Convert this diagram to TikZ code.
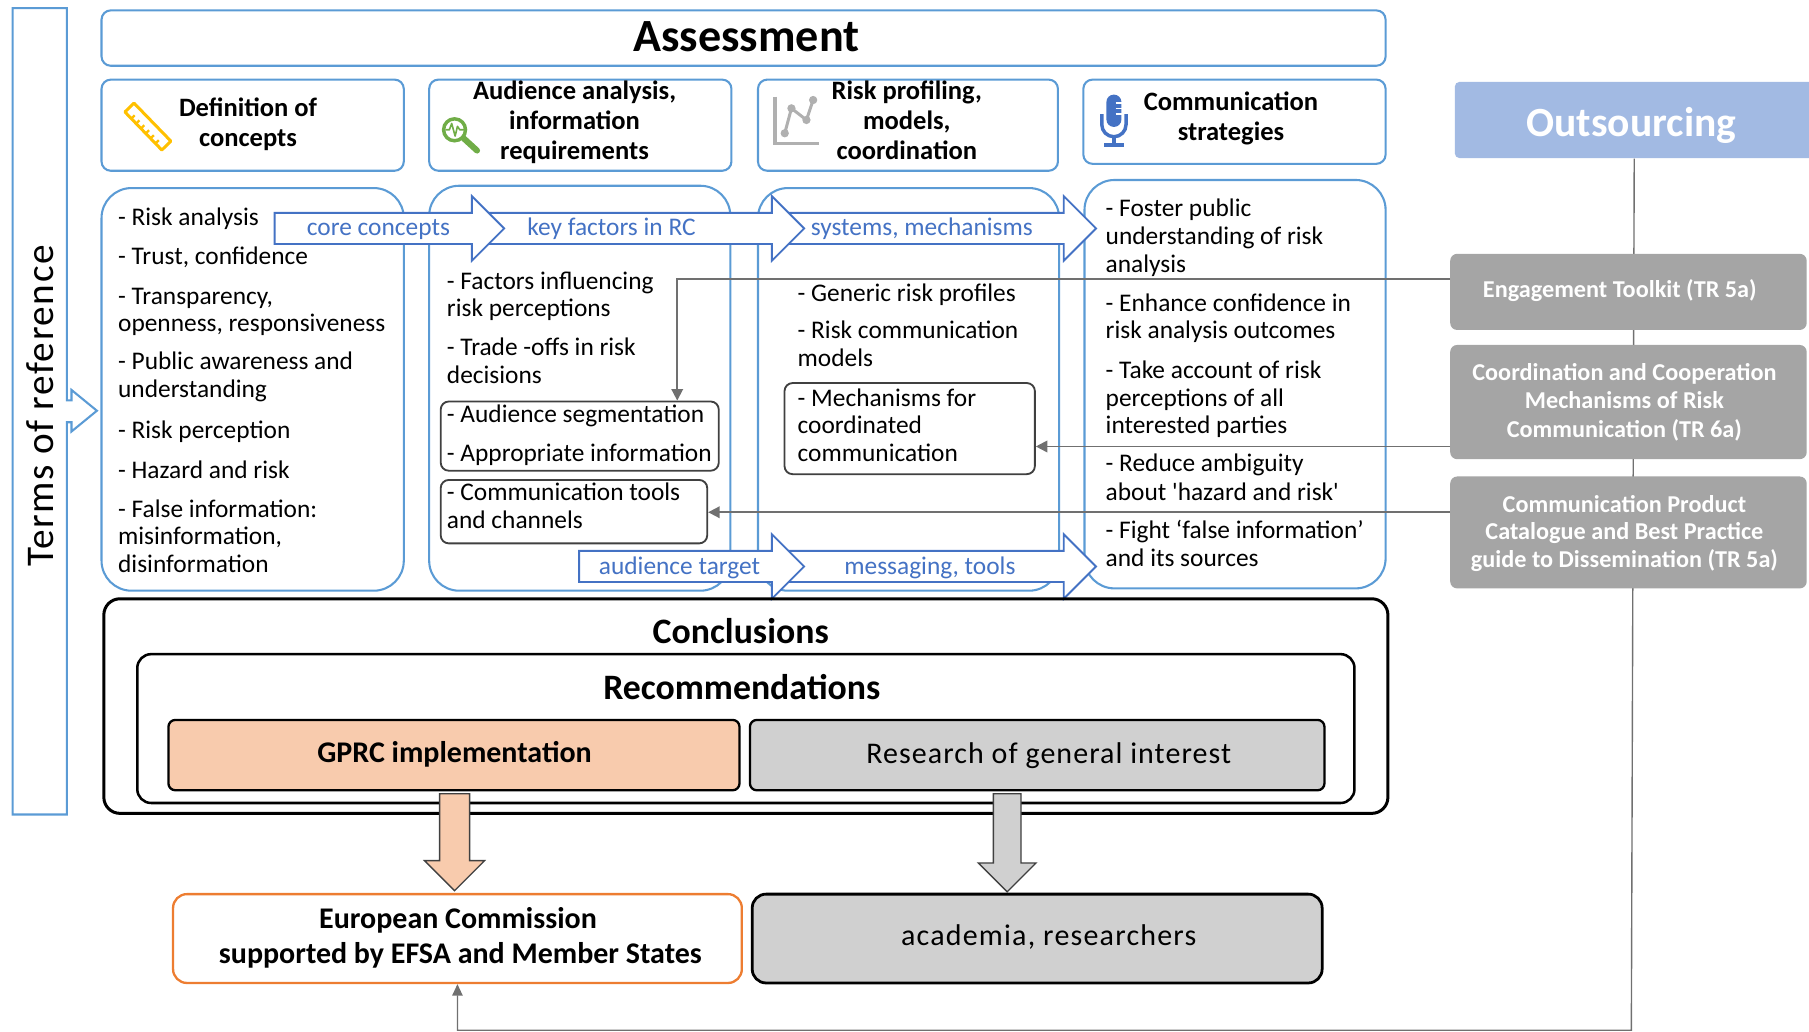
\documentclass[tikz,border=0pt]{standalone}
\usepackage{fontspec}
\setmainfont{Carlito}[Ligatures=TeXOff]
\usetikzlibrary{fit,arrows.meta}
\definecolor{bl}{HTML}{5B9BD5}
\definecolor{bt}{HTML}{4472C4}
\definecolor{gbx}{HTML}{A5A5A5}
\definecolor{outsc}{HTML}{A2BAE3}
\definecolor{peach}{HTML}{F8CBAD}
\definecolor{lgr}{HTML}{D0D0D0}
\definecolor{orng}{HTML}{ED7D31}
\definecolor{dk}{HTML}{404040}
\definecolor{cline}{HTML}{707070}
\definecolor{rulerc}{HTML}{FFC000}
\definecolor{magc}{HTML}{70AD47}
\definecolor{chartc}{HTML}{B0B0B0}
\definecolor{micc}{HTML}{4472C4}
\tikzset{
 hbox/.style={draw=bl, line width=0.9pt, rounded corners=4pt, inner sep=0pt},
 colbox/.style={draw=bl, line width=0.9pt, rounded corners=13pt, inner sep=0pt},
 inbox/.style={draw=dk, line width=0.8pt, rounded corners=3.5pt, fill=white, inner sep=0pt},
 gbox/.style={fill=gbx, rounded corners=3pt, inner sep=0pt},
 blk/.style={draw=black, line width=1.2pt, rounded corners=7pt, inner sep=0pt},
 txt/.style={anchor=base west, inner sep=0pt, font=\fontsize{11}{12}\selectfont},
 hd/.style={anchor=base, inner sep=0pt, font=\bfseries\fontsize{11.5}{13}\selectfont},
 gtxt/.style={anchor=base, inner sep=0pt, text=white, font=\bfseries\fontsize{10.5}{12}\selectfont},
 atxt/.style={anchor=base, inner sep=0pt, text=bt, font=\fontsize{11}{12}\selectfont},
 barrow/.style={draw=bt, line width=0.8pt, fill=white, line join=miter},
 conn/.style={draw=cline, line width=0.8pt, -{Triangle[length=5pt,width=5pt]}},
 thinconn/.style={draw=cline, line width=0.6pt, -{Triangle[length=5pt,width=4.5pt]}},
}
\newcommand\myblockarrow[4]{%
 \draw[barrow] (#1,#4-13.5) -- (#2,#4-13.5) -- (#2,#4-28) -- (#3,#4) -- (#2,#4+28) -- (#2,#4+13.5) -- (#1,#4+13.5) -- cycle;}
\begin{document}
\begin{tikzpicture}[x=0.5pt,y=-0.5pt]
\useasboundingbox (0,0) rectangle (1568,894.5);
\coordinate (botR) at (1414,893);
% Terms of reference
\draw[draw=bl, line width=0.9pt] (11,7) -- (58,7) -- (58,347) -- (62,347) -- (62,338) -- (84,356) -- (62,374) -- (62,366) -- (58,366) -- (58,706) -- (11,706) -- cycle;
\node[rotate=90, inner sep=0pt, font=\fontsize{17}{20}\selectfont\addfontfeature{LetterSpace=4}] (tor) at (35,352) {Terms of reference};
% Assessment
\node[hbox, fit={(88,9) (1201,57)}] (assess) {};
\node[anchor=base, inner sep=0pt, font=\bfseries\fontsize{20}{24}\selectfont] (assessT) at (647,45) {Assessment};
% header boxes
\node[hbox, fit={(88,69) (350,148)}] (h1) {};
\node[hbox, fit={(372,69) (634,148)}] (h2) {};
\node[hbox, fit={(657,69) (917,148)}] (h3) {};
\node[hbox, fit={(939,69) (1201,142)}] (h4) {};
\node[hd] (h1a) at (215,101) {Definition of};
\node[hd] (h1b) at (215,127) {concepts};
\node[hd] (h2a) at (498,86.5) {Audience analysis,};
\node[hd] (h2b) at (498,112.5) {information};
\node[hd] (h2c) at (498,138.5) {requirements};
\node[hd] (h3a) at (786,86.5) {Risk profiling,};
\node[hd] (h3b) at (786,112.5) {models,};
\node[hd] (h3c) at (786,138.5) {coordination};
\node[hd] (h4a) at (1067,95.5) {Communication};
\node[hd] (h4b) at (1067,122) {strategies};
% icons
\draw[rulerc, line width=1.3pt, line join=round] (116.15,89.37) -- (108.25,97.03) -- (140.25,130.03) -- (148.15,122.37) -- cycle;
\foreach \t in {-15,-9,-3,3,9,15} \draw[rulerc, line width=1pt] (124.25+0.697*\t,113.53+0.718*\t) -- ++(2.9,-2.8);
\draw[magc, line width=1.5pt] (394,112.5) circle (9.5);
\draw[magc, line width=2.6pt, line cap=round] (402,120) -- (413.5,130.5);
\draw[magc, line width=0.7pt, line join=round] (386,112.5) -- (389.5,112.5) -- (391.5,107) -- (394.5,118) -- (396.5,109.5) -- (398.5,112.5) -- (402,112.5);
\draw[chartc, line width=1.5pt] (671.6,83.8) -- (671.6,124.2) -- (710,124.2);
\draw[chartc, line width=1.3pt] (680.2,115.5) -- (686,93.9) -- (699,104) -- (704.8,86.7);
\foreach \p in {(680.2,115.5),(686,93.9),(699,104),(704.8,86.7)} \fill[chartc] \p circle (3.6);
\fill[micc, rounded corners=3.2pt] (959,82) rectangle (972,110);
\foreach \yy in {89,94,99} \draw[white, line width=0.8pt] (967,\yy) -- (972.5,\yy);
\draw[micc, line width=1.5pt] (955,99) -- (955,108) arc (180:0:10.5) -- (976,99);
\draw[micc, line width=1.5pt] (965.5,118.5) -- (965.5,125.7);
\draw[micc, line width=1.5pt] (957,125.7) -- (974,125.7);
% content boxes
\node[colbox, fit={(88,163) (350,512)}] (c1) {};
\node[colbox, fit={(372,161) (633,512)}] (c2) {};
\node[colbox, fit={(657,163) (918,512)}] (c3) {};
\node[colbox, fit={(940,156) (1201,510)}] (c4) {};
% inner boxes
\node[inbox, fit={(382,348) (623,408)}] (seg) {};
\node[inbox, fit={(382,416) (613,471)}] (tools) {};
\node[inbox, fit={(680,332) (897,411)}] (mech) {};
% column texts
\foreach \tx/\yy [count=\i] in {{- Risk analysis}/195.5, {- Trust, confidence}/229.5, {- Transparency,}/263.5, {openness, responsiveness}/287.5, {- Public awareness and}/320.5, {understanding}/344.5, {- Risk perception}/380.5, {- Hazard and risk}/414.5, {- False information:}/448.5, {misinformation,}/472, {disinformation}/496}
  \node[txt] (ta\i) at (102,\yy) {\tx};
\foreach \tx/\yy [count=\i] in {{- Factors influencing}/251, {risk perceptions}/274.5, {- Trade -offs in risk}/308, {decisions}/332, {- Audience segmentation}/366, {- Appropriate information}/400, {- Communication tools}/434, {and channels}/458}
  \node[txt] (tb\i) at (387,\yy) {\tx};
\foreach \tx/\yy [count=\i] in {{- Generic risk profiles}/261, {- Risk communication}/293, {models}/318, {- Mechanisms for}/352, {coordinated}/376, {communication}/400}
  \node[txt] (tc\i) at (691,\yy) {\tx};
\foreach \tx/\yy [count=\i] in {{- Foster public}/188, {understanding of risk}/212, {analysis}/236, {- Enhance confidence in}/270, {risk analysis outcomes}/293.5, {- Take account of risk}/328, {perceptions of all}/352, {interested parties}/376, {- Reduce ambiguity}/409, {about 'hazard and risk'}/434, {- Fight ‘false information’}/467, {and its sources}/491}
  \node[txt] (td\i) at (958,\yy) {\tx};
% block arrows (top row)
\myblockarrow{675}{922}{950}{198}
\myblockarrow{415}{669}{697}{198}
\myblockarrow{238}{409}{437}{198}
\node[atxt] (a1) at (328,204) {core concepts};
\node[atxt] (a2) at (530,204) {key factors in RC};
\node[atxt] (a3) at (799,204) {systems, mechanisms};
% block arrows (bottom row)
\myblockarrow{675}{922}{950}{491}
\myblockarrow{502}{669}{697}{491}
\node[atxt] (a4) at (589,498) {audience target};
\node[atxt] (a5) at (806,498) {messaging, tools};
% Outsourcing
\node[fill=outsc, rounded corners=2pt, inner sep=0pt, fit={(1261,71) (1572,137)}] (outs) {};
\node[anchor=base, inner sep=0pt, text=white, font=\bfseries\fontsize{18}{22}\selectfont] (outsT) at (1414,118) {Outsourcing};
% bottom section boxes
\node[blk, line width=1.3pt, fit={(90,519) (1203,705)}] (concl) {};
\node[anchor=base, inner sep=0pt, font=\bfseries\fontsize{15.5}{18}\selectfont] (conclT) at (642,558) {Conclusions};
\node[blk, line width=1.1pt, rounded corners=6pt, fit={(119,567) (1174,696)}] (rec) {};
\node[anchor=base, inner sep=0pt, font=\bfseries\fontsize{15.5}{18}\selectfont] (recT) at (643,606) {Recommendations};
\node[blk, line width=1pt, rounded corners=3pt, fill=peach, fit={(146,624) (641,685)}] (gprc) {};
\node[anchor=base, inner sep=0pt, font=\bfseries\fontsize{13}{15}\selectfont] (gprcT) at (394,661) {GPRC implementation};
\node[blk, line width=1pt, rounded corners=3pt, fill=lgr, fit={(650,624) (1148,685)}] (res) {};
\node[anchor=base, inner sep=0pt, font=\fontsize{13}{15}\selectfont\addfontfeature{LetterSpace=3.5}] (resT) at (909,662) {Research of general interest};
% down arrows
\draw[draw=dk, line width=0.6pt, fill=peach, line join=miter] (381,688) -- (407,688) -- (407,746) -- (420,746) -- (394,772) -- (368,746) -- (381,746) -- cycle;
\draw[draw=dk, line width=0.6pt, fill=lgr, line join=miter] (861,688) -- (885,688) -- (885,748) -- (898,748) -- (873,773) -- (848,748) -- (861,748) -- cycle;
% target boxes
\node[draw=orng, line width=1pt, rounded corners=6pt, fill=white, inner sep=0pt, fit={(150,775) (643,852)}] (ec) {};
\node[anchor=base, inner sep=0pt, font=\bfseries\fontsize{13}{15}\selectfont] (ecA) at (397,805) {European Commission};
\node[anchor=base, inner sep=0pt, font=\bfseries\fontsize{13}{15}\selectfont] (ecB) at (399,835) {supported by EFSA and Member States};
\node[blk, line width=1.2pt, rounded corners=6pt, fill=lgr, fit={(652,775) (1146,852)}] (acad) {};
\node[anchor=base, inner sep=0pt, font=\fontsize{13}{15}\selectfont\addfontfeature{LetterSpace=4}] (acadT) at (909,819.5) {academia, researchers};
% outsourcing line down and back to EC
\draw[thinconn] (outs.south) -- (botR) -- (botR -| ec.south) -- (ec.south);
% gray outsourcing boxes
\node[gbox, fit={(1257,220) (1566,286)}] (eng) {};
\node[gtxt] (engT) at (1404,258) {Engagement Toolkit (TR 5a)};
\node[gbox, fit={(1257,299) (1566,398)}] (coop) {};
\node[gtxt] (coopA) at (1408,330) {Coordination and Cooperation};
\node[gtxt] (coopB) at (1408,354.5) {Mechanisms of Risk};
\node[gtxt] (coopC) at (1408,379) {Communication (TR 6a)};
\node[gbox, fit={(1257,413) (1566,510)}] (cpc) {};
\node[gtxt] (cpcA) at (1408,444) {Communication Product};
\node[gtxt] (cpcB) at (1408,468) {Catalogue and Best Practice};
\node[gtxt] (cpcC) at (1408,492) {guide to Dissemination (TR 5a)};
% gray connectors
\coordinate (engL) at (1257,242);
\coordinate (bend1) at (587,242);
\draw[conn] (engL) -- (bend1) -- (bend1 |- seg.north);
\coordinate (coopL) at (1257,387);
\draw[conn] (coopL) -- (coopL -| mech.east);
\coordinate (cpcL) at (1257,444);
\draw[conn] (cpcL) -- (cpcL -| tools.east);
\end{tikzpicture}
\end{document}
